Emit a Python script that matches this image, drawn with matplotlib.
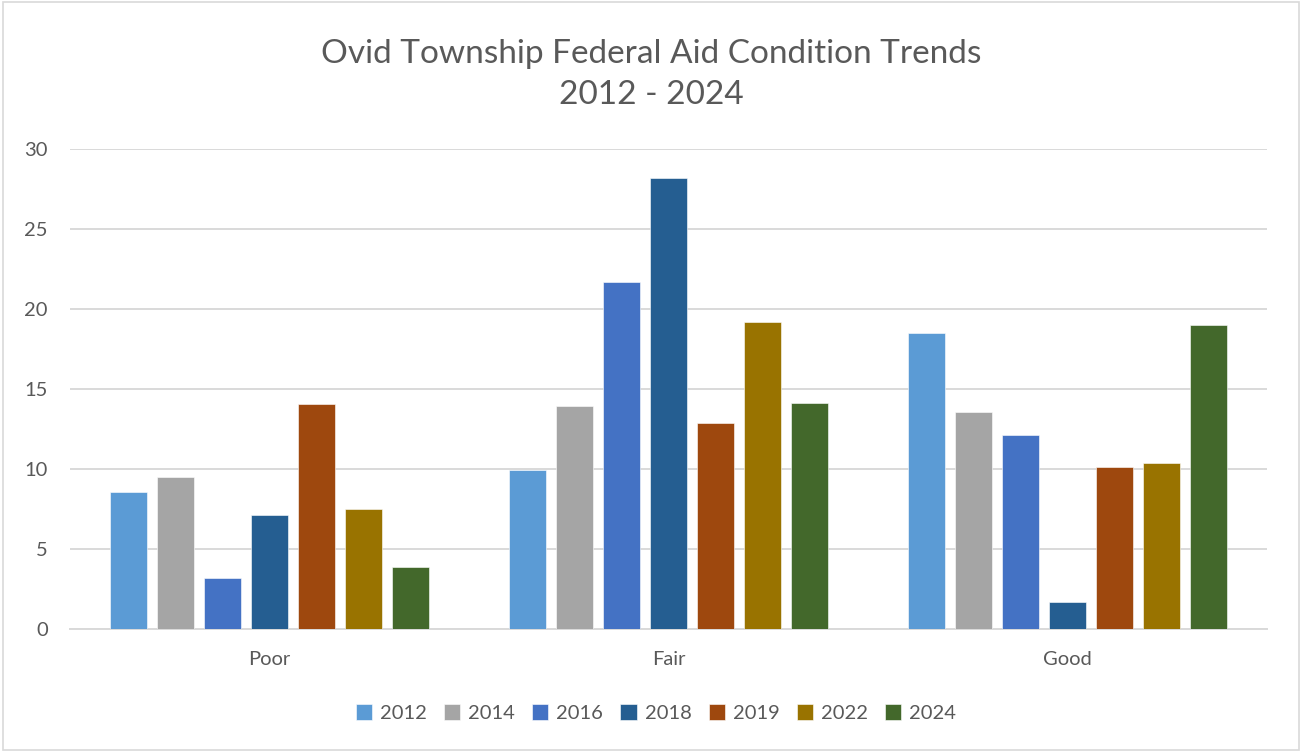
#%% IMPORTS
import matplotlib.pyplot as plt
import numpy as np
from matplotlib.patches import Rectangle

#%% DATA
categories = ['Poor', 'Fair', 'Good']
years = ['2012', '2014', '2016', '2018', '2019', '2022', '2024']
values_2012 = [8.55, 9.95, 18.5]
values_2014 = [9.5, 13.95, 13.55]
values_2016 = [3.2, 21.7, 12.1]
values_2018 = [7.15, 28.2, 1.67]
values_2019 = [14.05, 12.9, 10.1]
values_2022 = [7.5, 19.2, 10.35]
values_2024 = [3.9, 14.15, 19.0]
series = [values_2012, values_2014, values_2016, values_2018,
          values_2019, values_2022, values_2024]
colors = ['#5B9BD5', '#A5A5A5', '#4472C4', '#255E91',
          '#9E480E', '#997300', '#43682B']

#%% PLOT
plt.rcParams['font.family'] = ['Lato', 'DejaVu Sans']
text_color = '#595959'
grid_color = '#D9D9D9'

fig = plt.figure(figsize=(13.02, 7.52), dpi=100)
ax = fig.add_axes([70 / 1302, 123 / 752, 1197 / 1302, 480 / 752])

x = np.arange(len(categories))
pitch = 47 / 399
width = 37 / 399
for i, (vals, yr, col) in enumerate(zip(series, years, colors)):
    offset = (i - (len(series) - 1) / 2) * pitch
    ax.bar(x + offset, vals, width, color=col, label=yr, zorder=3,
           edgecolor='white', linewidth=0.4)

ax.set_xlim(-0.5, 2.5)
ax.set_ylim(0, 30)
ax.set_yticks(range(0, 31, 5))
ax.set_xticks(x)
ax.set_xticklabels(categories)
ax.yaxis.grid(True, color=grid_color, linewidth=1.4, zorder=0)
for side in ['top', 'right', 'left']:
    ax.spines[side].set_visible(False)
ax.spines['bottom'].set_color(grid_color)
ax.spines['bottom'].set_linewidth(1.4)
ax.tick_params(axis='both', length=0, labelsize=14.5, colors=text_color)
ax.tick_params(axis='y', pad=16)
ax.tick_params(axis='x', pad=16)

fig.text(0.5, 1 - 74.5 / 752,
         'Ovid Township Federal Aid Condition Trends\n2012 - 2024',
         ha='center', va='center', fontsize=24, color=text_color,
         linespacing=1.45)

leg = fig.legend(loc='center', bbox_to_anchor=(656 / 1302, 1 - 713 / 752),
                 ncol=7, frameon=False, fontsize=14.5, handlelength=0.8,
                 handleheight=0.8, handletextpad=0.4, columnspacing=0.85)
for t in leg.get_texts():
    t.set_color(text_color)

# chart border
fig.patches.append(Rectangle((0.002, 0.002), 0.996, 0.995, transform=fig.transFigure,
                             fill=False, edgecolor=grid_color, linewidth=1.2))

fig.savefig('out.png', dpi=100)
